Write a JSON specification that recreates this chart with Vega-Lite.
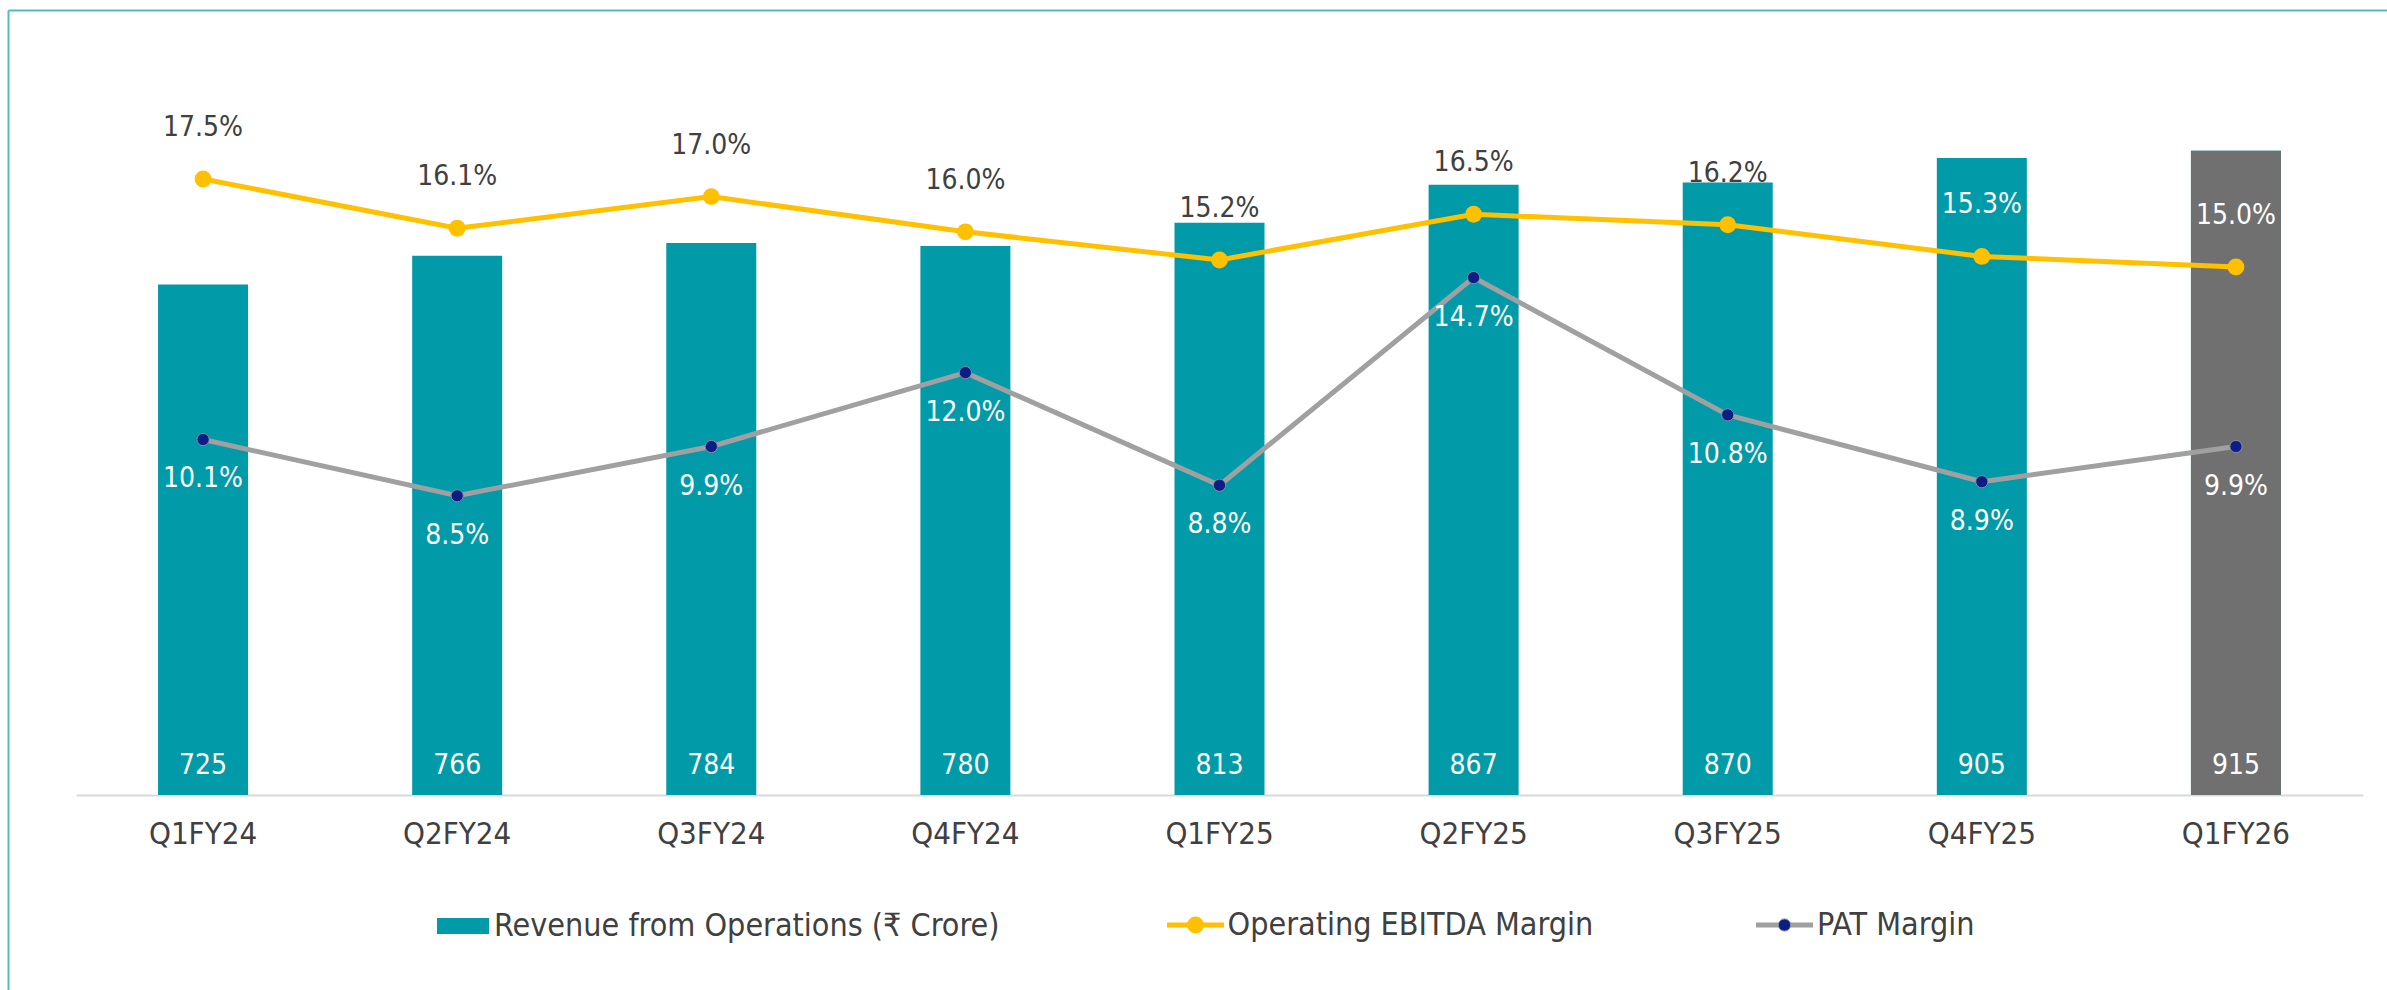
{
  "$schema": "https://vega.github.io/schema/vega-lite/v6.json",
  "width": 2420,
  "height": 1020,
  "autosize": {"type": "none"},
  "padding": {"left": 8, "top": 10, "right": -41, "bottom": -40},
  "background": "white",
  "config": {
    "font": "DejaVu Sans Condensed, DejaVu Sans, sans-serif",
    "view": {"stroke": null},
    "legend": {
      "labelFont": "DejaVu Sans Condensed, DejaVu Sans, sans-serif",
      "labelFontSize": 32,
      "labelColor": "#404040",
      "labelLimit": 0,
      "padding": 0,
      "symbolOpacity": 1
    }
  },
  "data": {
    "values": [
      {"Quarter": "Q1FY24", "Revenue": 725, "EBITDA": 0.175, "PAT": 0.101},
      {"Quarter": "Q2FY24", "Revenue": 766, "EBITDA": 0.161, "PAT": 0.085},
      {"Quarter": "Q3FY24", "Revenue": 784, "EBITDA": 0.170, "PAT": 0.099},
      {"Quarter": "Q4FY24", "Revenue": 780, "EBITDA": 0.160, "PAT": 0.120},
      {"Quarter": "Q1FY25", "Revenue": 813, "EBITDA": 0.152, "PAT": 0.088},
      {"Quarter": "Q2FY25", "Revenue": 867, "EBITDA": 0.165, "PAT": 0.147},
      {"Quarter": "Q3FY25", "Revenue": 870, "EBITDA": 0.162, "PAT": 0.108},
      {"Quarter": "Q4FY25", "Revenue": 905, "EBITDA": 0.153, "PAT": 0.089},
      {"Quarter": "Q1FY26", "Revenue": 915, "EBITDA": 0.150, "PAT": 0.099}
    ]
  },
  "encoding": {
    "x": {
      "field": "Quarter",
      "type": "nominal",
      "sort": null,
      "scale": {"domain": ["Q1FY24", "Q2FY24", "Q3FY24", "Q4FY24", "Q1FY25", "Q2FY25", "Q3FY25", "Q4FY25", "Q1FY26"], "range": [68, 2355], "paddingInner": 0.6458, "paddingOuter": 0.3229},
      "axis": null
    }
  },
  "layer": [
    {
      "mark": {"type": "bar"},
      "encoding": {
        "x": {
          "field": "Quarter",
          "type": "nominal",
          "sort": null,
          "scale": {"domain": ["Q1FY24", "Q2FY24", "Q3FY24", "Q4FY24", "Q1FY25", "Q2FY25", "Q3FY25", "Q4FY25", "Q1FY26"], "range": [68, 2355], "paddingInner": 0.6458, "paddingOuter": 0.3229},
          "axis": {
            "orient": "bottom",
            "offset": -235,
            "title": null,
            "labelAngle": 0,
            "ticks": false,
            "tickSize": 0,
            "grid": false,
            "domainColor": "#d9d9d9",
            "domainWidth": 2,
            "labelFont": "DejaVu Sans Condensed, DejaVu Sans, sans-serif",
            "labelFontSize": 31,
            "labelColor": "#404040",
            "labelPadding": 24
          }
        },
        "y": {"field": "Revenue", "type": "quantitative", "scale": {"domain": [-333.81, 1115.05], "nice": false, "zero": false}, "axis": null},
        "y2": {"datum": 0},
        "color": {
          "datum": "Revenue from Operations (₹ Crore)",
          "type": "nominal",
          "scale": {"range": ["#009aa8"]},
          "legend": {"orient": "none", "legendX": 429, "legendY": 890, "symbolType": "M-1,-0.3077H1V0.3077H-1Z", "symbolSize": 2704, "symbolStrokeWidth": 0, "labelOffset": 5, "title": null}
        }
      }
    },
    {
      "transform": [{"filter": "datum.Quarter === 'Q1FY26'"}],
      "mark": {"type": "bar", "color": "#707070"},
      "encoding": {
        "y": {"field": "Revenue", "type": "quantitative", "scale": {"domain": [-333.81, 1115.05], "nice": false, "zero": false}, "axis": null},
        "y2": {"datum": 0}
      }
    },
    {
      "mark": {"type": "text", "color": "white", "fontSize": 28, "baseline": "middle", "dy": -29},
      "encoding": {
        "y": {"datum": 0, "type": "quantitative", "scale": {"domain": [-333.81, 1115.05], "nice": false, "zero": false}, "axis": null},
        "text": {"field": "Revenue", "type": "quantitative", "format": "d"}
      }
    },
    {
      "mark": {"type": "line", "strokeWidth": 5},
      "encoding": {
        "y": {"field": "PAT", "type": "quantitative", "scale": {"domain": [-0.066761, 0.223012], "nice": false, "zero": false}, "axis": null},
        "color": {
          "datum": "PAT Margin",
          "type": "nominal",
          "scale": {"range": ["#a0a0a0"]},
          "legend": {"orient": "none", "legendX": 1745.5, "legendY": 884, "symbolType": "stroke", "symbolSize": 3249, "symbolStrokeWidth": 5, "labelOffset": 1.5, "title": null}
        }
      }
    },
    {
      "mark": {"type": "point", "filled": true, "size": 150, "opacity": 1, "stroke": "#8a8aa8", "strokeWidth": 1},
      "encoding": {
        "y": {"field": "PAT", "type": "quantitative", "scale": {"domain": [-0.066761, 0.223012], "nice": false, "zero": false}, "axis": null},
        "color": {
          "datum": "PAT Margin",
          "type": "nominal",
          "scale": {"range": ["#0c1e84"]},
          "legend": {"orient": "none", "legendX": 1760.5, "legendY": 899, "symbolType": "circle", "symbolSize": 150, "symbolStrokeColor": "#8a8aa8", "symbolStrokeWidth": 1, "labelExpr": "''", "title": null}
        }
      }
    },
    {
      "mark": {"type": "text", "color": "white", "fontSize": 28, "baseline": "middle", "dy": 40},
      "encoding": {
        "y": {"field": "PAT", "type": "quantitative", "scale": {"domain": [-0.066761, 0.223012], "nice": false, "zero": false}, "axis": null},
        "text": {"field": "PAT", "type": "quantitative", "format": ".1%"}
      }
    },
    {
      "mark": {"type": "line", "strokeWidth": 5},
      "encoding": {
        "y": {"field": "EBITDA", "type": "quantitative", "scale": {"domain": [-0.066761, 0.223012], "nice": false, "zero": false}, "axis": null},
        "color": {
          "datum": "Operating EBITDA Margin",
          "type": "nominal",
          "scale": {"range": ["#ffc000"]},
          "legend": {"orient": "none", "legendX": 1156.5, "legendY": 884, "symbolType": "stroke", "symbolSize": 3249, "symbolStrokeWidth": 5, "labelOffset": 1, "title": null}
        }
      }
    },
    {
      "mark": {"type": "point", "filled": true, "size": 284, "opacity": 1},
      "encoding": {
        "y": {"field": "EBITDA", "type": "quantitative", "scale": {"domain": [-0.066761, 0.223012], "nice": false, "zero": false}, "axis": null},
        "color": {
          "datum": "Operating EBITDA Margin",
          "type": "nominal",
          "scale": {"range": ["#ffc000"]},
          "legend": {"orient": "none", "legendX": 1171.5, "legendY": 899, "symbolType": "circle", "symbolSize": 284, "symbolStrokeWidth": 0, "labelExpr": "''", "title": null}
        }
      }
    },
    {
      "mark": {"type": "text", "fontSize": 28, "baseline": "middle", "dy": -51},
      "encoding": {
        "y": {"field": "EBITDA", "type": "quantitative", "scale": {"domain": [-0.066761, 0.223012], "nice": false, "zero": false}, "axis": null},
        "text": {"field": "EBITDA", "type": "quantitative", "format": ".1%"},
        "color": {"condition": {"test": "datum.Quarter === 'Q4FY25' || datum.Quarter === 'Q1FY26'", "value": "white"}, "value": "#404040"}
      }
    },
    {
      "mark": {"type": "point", "size": 0, "opacity": 0},
      "encoding": {
        "x": {"datum": 0, "type": "quantitative", "scale": {"domain": [0, 1], "range": [0, 2420], "nice": false, "zero": false}, "axis": {"orient": "top", "domain": true, "domainColor": "#52bcc2", "domainWidth": 2, "labels": false, "ticks": false, "grid": false, "title": null}},
        "y": {"datum": 0, "type": "quantitative", "scale": {"domain": [0, 1], "nice": false, "zero": false}, "axis": {"orient": "left", "domain": true, "domainColor": "#52bcc2", "domainWidth": 2, "labels": false, "ticks": false, "grid": false, "title": null}}
      }
    }
  ],
  "resolve": {"scale": {"x": "independent", "y": "independent", "color": "independent"}, "legend": {"color": "independent"}}
}
